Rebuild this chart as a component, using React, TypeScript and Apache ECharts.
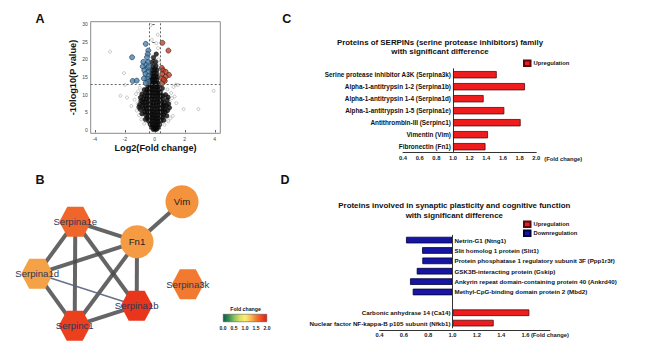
import React, { useEffect, useRef } from 'react';
import * as echarts from 'echarts';

const FONT = "'Liberation Sans', Arial, Helvetica, sans-serif";

// ---------- Panel A : volcano plot ----------
const volcanoTicksX = [-4, -2, 0, 2, 4];
const volcanoTicksY = [0, 5, 10, 15, 20, 25, 30];
const foldCut = 0.38; // log2(1.3)
const pCut = 13.01; // -10log10(0.05)

const volcanoUp = [
  [0.51, 24.7], [0.91, 22.5], [0.47, 17.6], [0.56, 16.9], [0.73, 16.5], [0.5, 15.9],
  [0.95, 15.6], [0.73, 15.1], [0.48, 14.6], [0.67, 13.9], [0.48, 13.2], [0.6, 14.3],
];
const volcanoDown = [
  [-0.6, 24.4], [-0.43, 22.5], [-0.47, 21.5], [-1.51, 20.6], [-0.52, 20.6], [-0.76, 19.3],
  [-0.45, 19.2], [-0.58, 18.4], [-0.8, 18.0], [-0.5, 17.5], [-0.7, 16.9], [-0.45, 16.4],
  [-0.62, 15.9], [-0.42, 15.3], [-0.5, 14.5], [-0.72, 14.6], [-1.47, 13.9], [-1.2, 14.0],
  [-0.45, 13.6], [-0.6, 13.3], [-0.4, 18.0],
];
const volcanoGrey = [
  [-2.98, 22.2], [-2.05, 16.1], [-2.29, 9.7], [-1.85, 9.2], [3.93, 11.1], [1.93, 5.9],
  [2.91, 5.9], [1.55, 12.8], [1.4, 12.8], [-1.98, 12.8], [1.33, 9.5], [1.44, 7.6],
  [-1.34, 8.6], [-1.56, 6.8], [-0.27, 29.7], [0.11, 24.6], [0.22, 23.2], [1.1, 10.5],
  [1.0, 8.0], [-1.1, 11.0], [-1.2, 5.5], [1.2, 4.0], [-0.9, 3.0], [0.9, 2.5], [-1.0, 12.0],
  [0.85, 11.5], [-0.3, 21.0], [0.25, 20.0], [-0.2, 25.5], [0.3, 19.0], [-0.9, 9.5],
  [0.95, 6.5], [-1.15, 7.5], [1.25, 12.2], [0.2, 27.0], [-1.25, 10.2], [1.15, 9.0],
  [-0.7, 1.8], [0.65, 1.5], [1.05, 3.3], [-1.05, 4.2],
];
const volcanoBlack = [
  [-0.1, 0.2], [0.05, 0.2], [0.15, 0.3],
  [-0.2, 0.8], [-0.05, 0.8], [0.1, 0.9], [0.22, 0.8],
  [-0.3, 1.6], [-0.14, 1.6], [0.02, 1.7], [0.16, 1.6], [0.32, 1.5],
  [-0.4, 2.5], [-0.24, 2.5], [-0.08, 2.6], [0.08, 2.5], [0.24, 2.4], [0.4, 2.5],
  [-0.5, 3.4], [-0.33, 3.4], [-0.16, 3.5], [0.0, 3.4], [0.16, 3.3], [0.32, 3.4], [0.5, 3.5],
  [-0.6, 4.3], [-0.43, 4.3], [-0.26, 4.4], [-0.09, 4.3], [0.08, 4.2], [0.25, 4.3], [0.42, 4.4], [0.6, 4.3],
  [-0.68, 5.2], [-0.5, 5.2], [-0.32, 5.3], [-0.15, 5.2], [0.02, 5.1], [0.19, 5.2], [0.36, 5.3], [0.53, 5.2], [0.7, 5.1],
  [-0.74, 6.1], [-0.56, 6.1], [-0.38, 6.2], [-0.2, 6.1], [-0.02, 6.0], [0.16, 6.1], [0.34, 6.2], [0.52, 6.1], [0.68, 6.0],
  [-0.8, 7.0], [-0.62, 7.0], [-0.44, 7.1], [-0.26, 7.0], [-0.08, 6.9], [0.1, 7.0], [0.28, 7.1], [0.46, 7.0], [0.62, 6.9], [0.78, 7.0],
  [-0.8, 7.9], [-0.62, 7.9], [-0.44, 8.0], [-0.26, 7.9], [-0.08, 7.8], [0.1, 7.9], [0.28, 8.0], [0.46, 7.9], [0.64, 7.8],
  [-0.74, 8.8], [-0.56, 8.8], [-0.38, 8.9], [-0.2, 8.8], [-0.02, 8.7], [0.16, 8.8], [0.34, 8.9], [0.52, 8.8],
  [-0.68, 9.7], [-0.5, 9.7], [-0.32, 9.8], [-0.14, 9.7], [0.03, 9.6], [0.2, 9.7], [0.37, 9.8], [0.54, 9.7],
  [-0.6, 10.6], [-0.43, 10.6], [-0.26, 10.7], [-0.1, 10.6], [0.06, 10.5], [0.22, 10.6], [0.38, 10.7],
  [-0.52, 11.5], [-0.36, 11.5], [-0.2, 11.6], [-0.04, 11.5], [0.12, 11.4], [0.28, 11.5],
  [-0.45, 12.4], [-0.3, 12.4], [-0.15, 12.5], [0.0, 12.4], [0.15, 12.3], [0.3, 12.4],
  [-0.34, 13.3], [-0.2, 13.3], [-0.06, 13.4], [0.08, 13.3], [0.22, 13.2],
  [-0.3, 14.2], [-0.15, 14.2], [0.0, 14.3], [0.14, 14.2],
  [-0.25, 15.1], [-0.1, 15.1], [0.05, 15.2], [0.18, 15.1],
  [-0.22, 16.0], [-0.05, 16.1], [0.12, 16.0],
  [-0.18, 17.0], [0.0, 17.1], [0.15, 17.0],
  [-0.12, 18.0], [0.08, 18.1],
  [-0.2, 19.2], [0.05, 19.3],
  [-0.08, 20.5], [0.1, 21.5],
  [-0.95, 5.8], [0.85, 5.5], [-0.92, 8.3], [0.82, 8.5], [-0.85, 10.2], [0.72, 10.0],
  [-1.0, 7.2], [0.92, 7.4], [-0.85, 4.6], [0.8, 4.0], [-0.95, 9.2], [0.88, 9.3],
  [-0.7, 11.4], [0.5, 11.8], [-0.62, 3.0], [0.6, 2.8], [-1.05, 6.5], [0.98, 6.3],
];

// ---------- Panel B : interaction network ----------
const netNodes = ['Vim', 'Fn1', 'Serpina1e', 'Serpina1d', 'Serpina1b', 'Serpinc1', 'Serpina3k'];
const netFold = [1.42, 1.39, 1.616, 1.368, 1.864, 1.812, 1.525];
const netShape = ['circle', 'circle', 'hex', 'hex', 'hex', 'hex', 'hex'];
const netX = [182, 137, 75.3, 37.2, 136.7, 74.7, 187.8];
const netY = [201.7, 241.7, 221.7, 273.8, 305.8, 325.8, 284.2];
const netLinks = [
  ['Vim', 'Fn1'], ['Fn1', 'Serpina1e'], ['Fn1', 'Serpina1d'], ['Fn1', 'Serpina1b'],
  ['Fn1', 'Serpinc1'], ['Serpina1e', 'Serpina1d'], ['Serpina1e', 'Serpinc1'],
  ['Serpina1e', 'Serpina1b'], ['Serpina1d', 'Serpinc1'], ['Serpinc1', 'Serpina1b'],
];
const netWeakLinks = [['Serpina1d', 'Serpina1b']];
const foldColors = ['#0b5e46', '#3a8a50', '#8cc060', '#d8e060', '#f8f070', '#f8c058', '#f27e32', '#ee4a20', '#e41c14'];

// ---------- Panel C : SERPINs ----------
const serpinNames = [
  'Serine protease inhibitor A3K (Serpina3k)',
  'Alpha-1-antitrypsin 1-2 (Serpina1b)',
  'Alpha-1-antitrypsin 1-4 (Serpina1d)',
  'Alpha-1-antitrypsin 1-5 (Serpina1e)',
  'Antithrombin-III (Serpinc1)',
  'Vimentin (Vim)',
  'Fibronectin (Fn1)',
];
const serpinFold = [1.525, 1.864, 1.368, 1.616, 1.812, 1.42, 1.39];

// ---------- Panel D : synaptic plasticity ----------
const synNames = [
  'Netrin-G1 (Ntng1)',
  'Slit homolog 1 protein (Slit1)',
  'Protein phosphatase 1 regulatory subunit 3F (Ppp1r3f)',
  'GSK3B-interacting protein (Gskip)',
  'Ankyrin repeat domain-containing protein 40 (Ankrd40)',
  'Methyl-CpG-binding domain protein 2 (Mbd2)',
  '',
  'Carbonic anhydrase 14 (Ca14)',
  'Nuclear factor NF-kappa-B p105 subunit (Nfkb1)',
];
const synFold: (number | null)[] = [0.618, 0.75, 0.752, 0.706, 0.651, 0.673, null, 1.631, 1.338];

const HEX = 'path://M25 0L75 0L100 50L75 100L25 100L0 50Z';
const RED = '#ee1c1c';
const BLUE = '#1616a2';

// panel C grid geometry (x axis 0.4 .. 2.0)
const C_LEFT = 403;
const C_WIDTH = 133.3;
const C_MIN = 0.4;
const C_MAX = 2.0;

function buildOption() {
  const minX = Math.min(...netX);
  const maxX = Math.max(...netX);
  const minY = Math.min(...netY);
  const maxY = Math.max(...netY);

  const smallBold = { fontSize: 5.8, fontWeight: 'bold' as const, fontFamily: FONT, color: '#222' };
  const barLabel = { fontWeight: 'bold' as const, fontFamily: FONT, color: '#111', textBorderWidth: 0 };

  const series: any[] = [];
  // A
  series.push({
    type: 'scatter', xAxisIndex: 0, yAxisIndex: 0, data: volcanoGrey, symbolSize: 3, silent: true,
    itemStyle: { color: 'rgba(0,0,0,0)', borderColor: '#9a9a9a', borderWidth: 0.7 },
    markLine: {
      silent: true, symbol: 'none', label: { show: false },
      lineStyle: { type: [2, 2], color: '#666', width: 1 },
      data: [{ xAxis: -foldCut }, { xAxis: foldCut }, { yAxis: pCut }],
    },
  });
  series.push({
    type: 'scatter', xAxisIndex: 0, yAxisIndex: 0, data: volcanoBlack, symbolSize: 4.8, silent: true,
    itemStyle: { color: '#0d0d0d', borderColor: '#000', borderWidth: 0.3 },
  });
  series.push({
    type: 'scatter', xAxisIndex: 0, yAxisIndex: 0, data: volcanoDown, symbolSize: 5, silent: true,
    itemStyle: { color: '#4f82ad', borderColor: '#1d3a55', borderWidth: 0.8 },
  });
  series.push({
    type: 'scatter', xAxisIndex: 0, yAxisIndex: 0, data: volcanoUp, symbolSize: 5, silent: true,
    itemStyle: { color: '#b8432c', borderColor: '#55180c', borderWidth: 0.8 },
  });
  // B
  const graphIdx = series.length;
  series.push({
    type: 'graph', layout: 'none', roam: false, silent: true,
    left: minX, top: minY, width: maxX - minX, height: maxY - minY,
    data: netNodes.map((n, i) => ({
      name: n, x: netX[i], y: netY[i], value: netFold[i],
      symbol: netShape[i] === 'hex' ? HEX : 'circle',
      symbolSize: netShape[i] === 'hex' ? [32, 30] : 33,
      label: { color: netShape[i] === 'hex' ? '#2d3858' : '#222' },
    })),
    links: [
      ...netLinks.map(([s, t]) => ({ source: s, target: t, lineStyle: { width: 4, color: '#4a4a4a', opacity: 0.85 } })),
      ...netWeakLinks.map(([s, t]) => ({ source: s, target: t, lineStyle: { width: 1.5, color: '#56627e', opacity: 0.9 } })),
    ],
    label: { show: true, position: 'inside', fontSize: 9.6, fontFamily: FONT },
    lineStyle: { curveness: 0 },
    emphasis: { disabled: true },
  });
  // colour bar
  series.push({
    type: 'bar', xAxisIndex: 1, yAxisIndex: 1, data: [2], barWidth: 8, silent: true,
    itemStyle: {
      color: new echarts.graphic.LinearGradient(0, 0, 1, 0,
        foldColors.map((c, i) => ({ offset: i / (foldColors.length - 1), color: c }))),
      borderColor: '#444', borderWidth: 0.5,
    },
  });
  // C
  series.push({
    type: 'bar', name: 'baseC', xAxisIndex: 2, yAxisIndex: 2, stack: 'c', barWidth: 7.3, silent: true,
    data: serpinFold.map((v) => Math.min(v, 1)), itemStyle: { color: 'rgba(0,0,0,0)' },
  });
  series.push({
    type: 'bar', name: 'Upregulation', xAxisIndex: 2, yAxisIndex: 2, stack: 'c', barWidth: 7.3, silent: true,
    data: serpinFold.map((v) => (v > 1 ? v - 1 : '-')),
    itemStyle: { color: RED, borderColor: '#5a0808', borderWidth: 0.8 },
  });
  // D
  series.push({
    type: 'bar', name: 'baseD', xAxisIndex: 3, yAxisIndex: 3, stack: 'd', barWidth: 6.6, silent: true,
    data: synFold.map((v) => (v == null ? '-' : Math.min(v, 1))), itemStyle: { color: 'rgba(0,0,0,0)' },
  });
  series.push({
    type: 'bar', name: 'Upregulation', xAxisIndex: 3, yAxisIndex: 3, stack: 'd', barWidth: 6.6, silent: true,
    data: synFold.map((v) => (v != null && v > 1 ? v - 1 : '-')),
    itemStyle: { color: RED, borderColor: '#5a0808', borderWidth: 0.8 },
    label: { show: true, position: 'left', distance: 2, formatter: (p: any) => p.name, fontSize: 6.2, ...barLabel },
    markLine: {
      silent: true, symbol: 'none', label: { show: false },
      lineStyle: { type: 'solid', color: '#333', width: 1 }, data: [{ xAxis: 1 }],
    },
  });
  series.push({
    type: 'bar', name: 'Downregulation', xAxisIndex: 3, yAxisIndex: 3, stack: 'd', barWidth: 6.6, silent: true,
    data: synFold.map((v) => (v != null && v < 1 ? 1 - v : '-')),
    itemStyle: { color: BLUE, borderColor: '#00003a', borderWidth: 0.8 },
    label: { show: true, position: 'right', distance: 2, formatter: (p: any) => p.name, fontSize: 6.2, ...barLabel },
  });

  const text = (t: string, x: number, y: number, size: number, extra: any = {}) => ({
    type: 'text', x, y, silent: true,
    style: {
      text: t, fontSize: size, fontWeight: 'bold', fontFamily: FONT, fill: '#111',
      align: 'center', verticalAlign: 'middle', ...extra,
    },
  });

  // the category axis of panel C sits on the 1.0 line, inside the grid
  const cAxisShift = ((1 - C_MIN) / (C_MAX - C_MIN)) * C_WIDTH;

  return {
    animation: false,
    backgroundColor: '#fff',
    textStyle: { fontFamily: FONT },
    grid: [
      { left: 90.7, top: 21.7, width: 129.6, height: 111.6, show: true, borderColor: '#8a8a8a', borderWidth: 1, backgroundColor: 'transparent' },
      { left: 223, top: 314, width: 44, height: 8 },
      { left: C_LEFT, top: 68.7, width: C_WIDTH, height: 84 },
      { left: 379.5, top: 234.9, width: 170.4, height: 93.4 },
    ],
    xAxis: [
      {
        gridIndex: 0, type: 'value', min: -4.27, max: 4.37,
        name: 'Log2(Fold change)', nameLocation: 'middle', nameGap: 10,
        nameTextStyle: { fontSize: 9.2, fontWeight: 'bold', fontFamily: FONT, color: '#111' },
        axisLine: { show: false }, splitLine: { show: false },
        axisTick: { show: true, customValues: volcanoTicksX, length: 2.5, lineStyle: { color: '#666' } },
        axisLabel: { customValues: volcanoTicksX, fontSize: 5, color: '#444', margin: 3.5, fontFamily: FONT },
      },
      {
        gridIndex: 1, type: 'value', min: 0, max: 2, interval: 0.5,
        axisLine: { show: false }, axisTick: { show: false }, splitLine: { show: false },
        axisLabel: { ...smallBold, fontSize: 5, margin: 3, formatter: (v: number) => v.toFixed(1) },
      },
      {
        gridIndex: 2, type: 'value', min: C_MIN, max: C_MAX, interval: 0.2,
        axisLine: { show: true, lineStyle: { color: '#333', width: 1 } },
        axisTick: { show: false }, splitLine: { show: false },
        axisLabel: { ...smallBold, margin: 2, formatter: (v: number) => v.toFixed(1) },
        name: '(Fold change)', nameLocation: 'end', nameGap: 5,
        nameTextStyle: { ...smallBold, verticalAlign: 'top', padding: [3.5, 0, 0, 0] },
      },
      {
        gridIndex: 3, type: 'value', min: 0.4, max: 1.8, interval: 0.2, offset: 1.5,
        axisLine: { show: true, lineStyle: { color: '#333', width: 1 } },
        axisTick: { show: false }, splitLine: { show: false },
        axisLabel: {
          ...smallBold, margin: 2,
          formatter: (v: number) => (Math.abs(v - 1.8) < 1e-6 ? '(Fold change)' : v.toFixed(1)),
        },
      },
    ],
    yAxis: [
      {
        gridIndex: 0, type: 'value', min: -0.93, max: 30.68,
        name: '-10log10(P value)', nameLocation: 'middle', nameGap: 13, nameRotate: 90,
        nameTextStyle: { fontSize: 9.2, fontWeight: 'bold', fontFamily: FONT, color: '#111' },
        axisLine: { show: false }, splitLine: { show: false },
        axisTick: { show: true, customValues: volcanoTicksY, length: 2.5, lineStyle: { color: '#666' } },
        axisLabel: { customValues: volcanoTicksY, fontSize: 5, color: '#444', margin: 3, fontFamily: FONT },
      },
      { gridIndex: 1, type: 'category', data: ['Fold change'], show: false },
      {
        gridIndex: 2, type: 'category', data: serpinNames, inverse: true, offset: -cAxisShift,
        axisLine: { show: true, lineStyle: { color: '#333', width: 1 } },
        axisTick: { show: false },
        axisLabel: { fontSize: 6.4, fontWeight: 'bold', fontFamily: FONT, color: '#111', margin: 2 },
      },
      { gridIndex: 3, type: 'category', data: synNames, inverse: true, show: false },
    ],
    visualMap: [
      { type: 'continuous', show: false, min: 0, max: 2, seriesIndex: graphIdx, inRange: { color: foldColors } },
    ],
    legend: [
      {
        data: ['Upregulation'], left: 523, top: 59.5, padding: 0, icon: 'rect', itemWidth: 6.5, itemHeight: 5.5,
        selectedMode: false, textStyle: { ...smallBold, color: '#111', padding: [0, 0, 0, -2] },
      },
      {
        data: ['Upregulation', 'Downregulation'], orient: 'vertical', left: 523, top: 220.5, padding: 0,
        itemGap: 1.5, icon: 'rect', itemWidth: 6.5, itemHeight: 5.5, selectedMode: false,
        textStyle: { ...smallBold, color: '#111', padding: [0, 0, 0, -2] },
      },
    ],
    graphic: [
      text('A', 40, 19, 12.5),
      text('B', 40, 180, 12.5),
      text('C', 286.7, 18.5, 12.5),
      text('D', 285, 180, 12.5),
      text('Proteins of SERPINs (serine protease inhibitors) family\nwith significant difference', 440, 47, 7.9, { lineHeight: 9.4 }),
      text('Proteins involved in synaptic plasticity and cognitive function\nwith significant difference', 454.3, 210.3, 7.9, { lineHeight: 10.6 }),
      text('Fold change', 245.5, 309, 5.2),
    ],
    series,
  };
}

export default function App() {
  const ref = useRef<HTMLDivElement>(null);
  useEffect(() => {
    if (!ref.current) return;
    const chart = echarts.init(ref.current, undefined, { renderer: 'svg' });
    chart.setOption(buildOption() as any);
    return () => chart.dispose();
  }, []);
  return (
    <div
      ref={ref}
      style={{ position: 'absolute', left: 0, top: 0, width: 654, height: 352, background: '#fff' }}
    />
  );
}
